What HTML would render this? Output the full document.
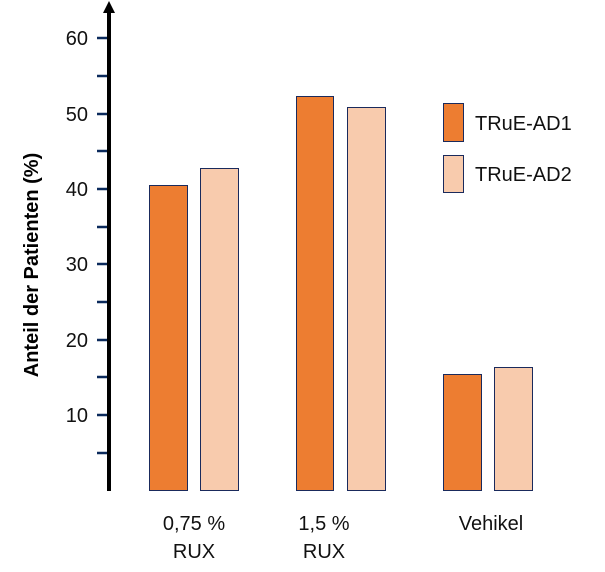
<!DOCTYPE html>
<html><head><style>body{margin:0;background:#fff}</style></head><body>
<svg width="605" height="567" viewBox="0 0 605 567" xmlns="http://www.w3.org/2000/svg" font-family="Liberation Sans, sans-serif">
<rect width="605" height="567" fill="#fff"/>
<g stroke="#0b2a5c" stroke-width="2.5">
<line x1="97" y1="38" x2="108" y2="38"/><line x1="97" y1="76" x2="108" y2="76"/>
<line x1="97" y1="114" x2="108" y2="114"/><line x1="97" y1="151" x2="108" y2="151"/>
<line x1="97" y1="189" x2="108" y2="189"/><line x1="97" y1="227" x2="108" y2="227"/>
<line x1="97" y1="264" x2="108" y2="264"/><line x1="97" y1="302" x2="108" y2="302"/>
<line x1="97" y1="340" x2="108" y2="340"/><line x1="97" y1="377" x2="108" y2="377"/>
<line x1="97" y1="415" x2="108" y2="415"/><line x1="97" y1="453" x2="108" y2="453"/>
</g>
<line x1="109" y1="10" x2="109" y2="491" stroke="#000" stroke-width="4"/>
<polygon points="109,1 103,13 115,13" fill="#000"/>
<g font-size="20" fill="#111" text-anchor="end">
<text x="88" y="45">60</text><text x="88" y="121">50</text><text x="88" y="196">40</text>
<text x="88" y="271">30</text><text x="88" y="347">20</text><text x="88" y="422">10</text>
</g>
<text transform="translate(38,265) rotate(-90)" font-size="20" font-weight="bold" text-anchor="middle">Anteil der Patienten (%)</text>
<g stroke="#1a2a5c" stroke-width="1">
<rect x="149.5" y="185.5" width="38" height="305" fill="#ed7d31"/>
<rect x="200.5" y="168.5" width="38" height="322" fill="#f8cbad"/>
<rect x="296.5" y="96.5" width="37" height="394" fill="#ed7d31"/>
<rect x="347.5" y="107.5" width="38" height="383" fill="#f8cbad"/>
<rect x="443.5" y="374.5" width="38" height="116" fill="#ed7d31"/>
<rect x="494.5" y="367.5" width="38" height="123" fill="#f8cbad"/>
<rect x="443.5" y="103.5" width="20" height="38" fill="#ed7d31"/>
<rect x="443.5" y="155.5" width="20" height="37" fill="#f8cbad"/>
</g>
<g font-size="20" fill="#111">
<text x="475" y="130">TRuE-AD1</text><text x="475" y="181">TRuE-AD2</text>
</g>
<g font-size="20" fill="#111" text-anchor="middle">
<text x="194" y="530">0,75 %</text><text x="194" y="558">RUX</text>
<text x="324" y="530">1,5 %</text><text x="324" y="558">RUX</text>
<text x="491" y="530">Vehikel</text>
</g>
</svg>
</body></html>
